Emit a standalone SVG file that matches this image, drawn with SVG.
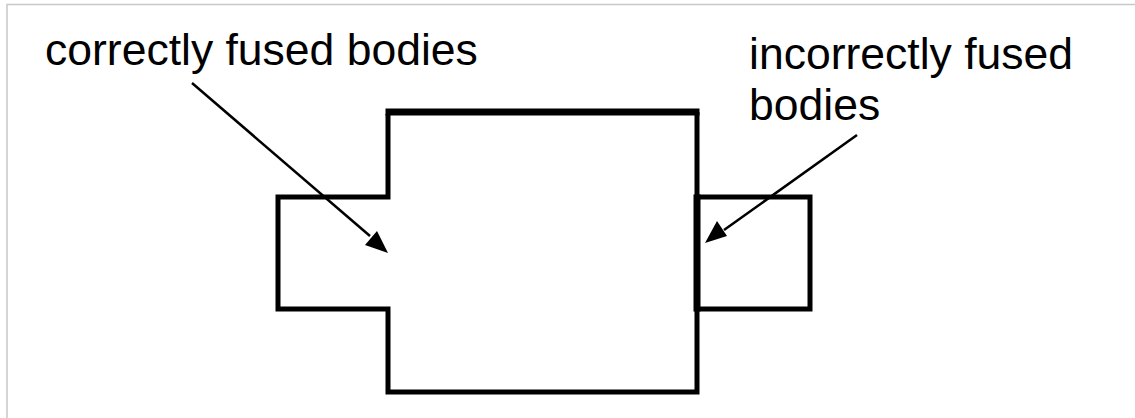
<svg xmlns="http://www.w3.org/2000/svg" width="1135" height="418" viewBox="0 0 1135 418">
<defs>
<style>
.t{font-family:"Liberation Sans",Arial,sans-serif;font-size:44.5px;fill:#000}
.s{fill:none;stroke:#000;stroke-width:5;stroke-linejoin:miter}
.c{stroke:#000;stroke-width:2.5;fill:none}
</style>
</defs>
<rect width="1135" height="418" fill="#fff"/>
<path d="M7,418 V4.5 H1135" fill="none" stroke="#c8c8c8" stroke-width="1.5"/>
<g id="main-body">
<path class="s" d="M388,114 V197 H278 V309 H388 V392 H697 V112"/>
<line x1="385.5" y1="112" x2="699.5" y2="112" stroke="#000" stroke-width="7"/>
</g>
<g id="right-body">
<rect x="697" y="197" width="113" height="112" class="s"/>
<line x1="697" y1="194.5" x2="697" y2="311.5" stroke="#000" stroke-width="7"/>
</g>
<g id="label-correct"><text class="t" x="45" y="65">correctly fused bodies</text></g>
<g id="label-incorrect"><text class="t" x="749" y="69">incorrectly fused</text><text class="t" x="749" y="120">bodies</text></g>
<g id="connectors">
<line class="c" x1="192" y1="83" x2="370" y2="236"/>
<polygon points="388,253 365,245 377,231" fill="#000"/>
<line class="c" x1="857" y1="135" x2="724" y2="230"/>
<polygon points="705,243 717,221 727,236" fill="#000"/>
</g>
</svg>
